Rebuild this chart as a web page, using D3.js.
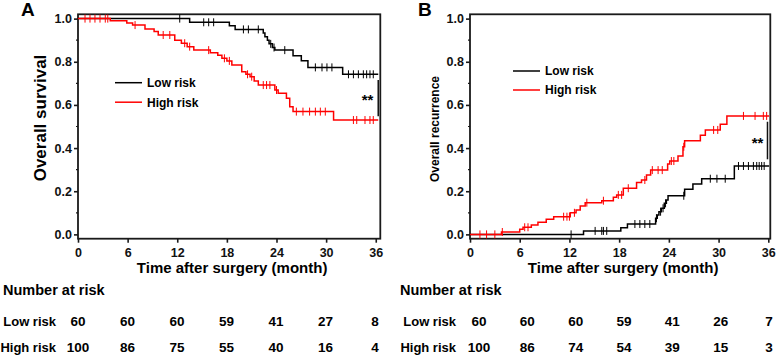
<!DOCTYPE html>
<html>
<head>
<meta charset="utf-8">
<script src="https://cdn.jsdelivr.net/npm/d3@7"></script>
<style>
  body { margin: 0; background: #fff; }
  svg { display: block; font-family: "Liberation Sans", Arial, sans-serif; font-weight: bold; }
</style>
</head>
<body>
<svg id="chart" width="777" height="356"></svg>
<script>
// Tick months shared by both panels and the risk table
const months = [0, 6, 12, 18, 24, 30, 36];

// Panel A: overall survival, [month, survival] after each step
const osLowSteps = [[0, 1], [13.5, 0.983], [18.3, 0.967], [19.0, 0.95], [22.4, 0.933], [22.6, 0.916],
  [22.9, 0.9], [23.1, 0.883], [23.5, 0.866], [23.8, 0.854], [26.0, 0.828], [27.0, 0.805],
  [27.8, 0.774], [32.0, 0.742]];
const osLowCensor = [12.3, 15.2, 15.8, 16.4, 20.0, 20.6, 21.8, 23.3, 23.7, 25.0, 28.7, 29.5, 30.1,
  30.7, 32.7, 33.3, 33.9, 34.5, 34.9, 35.3, 35.7];
const osLowEnd = 36.3;

const osHighSteps = [[0, 1], [3.9, 0.99], [5.9, 0.98], [6.6, 0.97], [8.1, 0.952], [9.2, 0.94],
  [9.7, 0.924], [11.7, 0.9], [12.5, 0.886], [13.2, 0.87], [14.0, 0.854], [16.0, 0.842],
  [16.9, 0.83], [17.4, 0.816], [18.0, 0.804], [18.6, 0.785], [19.8, 0.754], [20.3, 0.742],
  [20.8, 0.731], [21.3, 0.711], [21.8, 0.692], [23.8, 0.669], [24.2, 0.654], [25.2, 0.631],
  [25.6, 0.592], [26.0, 0.569], [30.9, 0.53]];
const osHighCensor = [0.85, 1.45, 2.05, 2.66, 3.3, 3.6, 6.9, 10.3, 11.1, 12.9, 13.5, 15.8, 17.7,
  18.3, 20.5, 21.0, 22.4, 22.8, 23.2, 24.0, 26.4, 27.2, 28.0, 28.7, 29.3, 29.9, 33.3, 33.7,
  34.7, 35.3, 35.7];
const osHighEnd = 36.3;

// Panel B: overall recurrence, [month, cumulative recurrence] after each step
const recLowSteps = [[0, 0], [13.7, 0.016], [18.2, 0.031], [19.0, 0.048], [22.4, 0.075],
  [22.6, 0.09], [22.8, 0.105], [23.1, 0.121], [23.45, 0.144], [23.7, 0.159], [23.9, 0.179],
  [25.9, 0.209], [26.9, 0.233], [27.96, 0.258], [31.9, 0.317]];
const recLowCensor = [12.2, 15.1, 15.9, 16.1, 16.5, 19.9, 20.5, 21.1, 21.7, 22.5, 23.0, 23.3,
  23.6, 25.8, 29.0, 29.8, 30.8, 32.4, 33.0, 33.6, 34.2, 34.6, 34.9, 35.2, 35.5];
const recLowEnd = 36.1;

const recHighSteps = [[0, 0], [3.8, 0.011], [6.0, 0.024], [6.4, 0.033], [7.4, 0.044], [8.2, 0.056],
  [9.2, 0.07], [10.1, 0.082], [12.1, 0.1], [12.8, 0.113], [13.3, 0.131], [13.9, 0.147],
  [15.9, 0.156], [17.3, 0.172], [17.7, 0.183], [18.5, 0.214], [20.1, 0.241], [20.7, 0.252],
  [21.3, 0.275], [21.8, 0.298], [23.85, 0.326], [24.1, 0.34], [25.1, 0.363], [25.7, 0.406],
  [25.9, 0.434], [27.8, 0.46], [28.4, 0.484], [30.2, 0.511], [31.0, 0.549]];
const recHighCensor = [1.2, 2.0, 3.0, 3.9, 6.6, 7.0, 11.3, 11.7, 12.0, 12.6, 14.1, 16.1, 17.9,
  18.3, 19.1, 21.1, 22.0, 22.7, 23.2, 24.3, 24.6, 25.8, 29.4, 29.9, 33.0, 34.4, 35.4, 35.8];
const recHighEnd = 36.1;

// Number at risk
const riskLowOS = [60, 60, 60, 59, 41, 27, 8];
const riskHighOS = [100, 86, 75, 55, 40, 16, 4];
const riskLowRec = [60, 60, 60, 59, 41, 26, 7];
const riskHighRec = [100, 86, 74, 54, 39, 15, 3];

const svg = d3.select('#chart');
const font = '"Liberation Sans", Arial, sans-serif';

// value of a step function at time t
function valueAt(steps, t) {
    let v = steps[0][1];
    for (const s of steps) { if (s[0] <= t) v = s[1]; }
    return v;
}

function drawPanel(p) {
    const x = d3.scaleLinear().domain([0, p.xMax]).range([p.left, p.right]);
    const y = d3.scaleLinear().domain([-0.02, 1.02]).range([p.bottom, p.top]);
    const g = svg.append('g');

    // Axes
    const ya = g.append('g').attr('transform', `translate(${p.left},0)`)
        .call(d3.axisLeft(y).tickValues([0, 0.2, 0.4, 0.6, 0.8, 1]).tickFormat(d3.format('.1f'))
            .tickSize(4).tickPadding(2));
    const xa = g.append('g').attr('transform', `translate(0,${p.bottom})`)
        .call(d3.axisBottom(x).tickValues(months).tickSize(4).tickPadding(5));
    [ya, xa].forEach(a => {
        a.select('.domain').remove();
        a.selectAll('line').attr('stroke', '#1a1a1a').attr('stroke-width', 1.6);
        a.selectAll('text').attr('fill', '#111').style('font-family', font)
            .style('font-size', '12.5px').style('font-weight', 'bold');
    });
    g.selectAll('.ymin').data([0.1, 0.3, 0.5, 0.7, 0.9]).join('line')
        .attr('x1', p.left - 2).attr('x2', p.left).attr('y1', d => y(d)).attr('y2', d => y(d))
        .attr('stroke', '#1a1a1a').attr('stroke-width', 1.2);

    // Frame
    g.append('rect').attr('x', p.left).attr('y', p.top)
        .attr('width', p.right - p.left).attr('height', p.bottom - p.top)
        .attr('fill', 'none').attr('stroke', '#1a1a1a').attr('stroke-width', 1.8);

    // Step curves with censor marks
    const line = d3.line().x(d => x(d[0])).y(d => y(d[1])).curve(d3.curveStepAfter);
    p.series.forEach(s => {
        const pts = s.steps.concat([[s.end, s.steps[s.steps.length - 1][1]]]);
        g.append('path').datum(pts).attr('d', line)
            .attr('fill', 'none').attr('stroke', s.color).attr('stroke-width', 1.5);
        g.selectAll(null).data(s.censor).join('line')
            .attr('x1', d => x(d)).attr('x2', d => x(d))
            .attr('y1', d => y(valueAt(s.steps, d)) - 4).attr('y2', d => y(valueAt(s.steps, d)) + 4)
            .attr('stroke', s.color).attr('stroke-width', 1);
    });

    // Significance bracket
    g.append('line').attr('x1', x(p.sig.x)).attr('x2', x(p.sig.x))
        .attr('y1', y(p.sig.y1)).attr('y2', y(p.sig.y2)).attr('stroke', '#111').attr('stroke-width', 1.5);
    g.append('text').attr('x', x(p.sig.tx)).attr('y', y(p.sig.ty) + 8)
        .attr('text-anchor', 'middle').style('font-size', '15px').text('**');

    // Legend
    p.series.forEach((s, i) => {
        const ly = p.legend.y + i * p.legend.dy;
        g.append('line').attr('x1', p.legend.x).attr('x2', p.legend.x + 27)
            .attr('y1', ly).attr('y2', ly).attr('stroke', s.color).attr('stroke-width', 1.5);
        g.append('text').attr('x', p.legend.x + 32).attr('y', ly + 4.3)
            .style('font-size', '12px').text(s.name);
    });

    // Titles
    g.append('text').attr('x', p.letterX).attr('y', 16).style('font-size', '19px').text(p.letter);
    g.append('text').attr('transform', `translate(${p.ytitleX},${p.ytitleY}) rotate(-90)`)
        .attr('text-anchor', 'middle').style('font-size', p.ytitleSize + 'px').text(p.ytitle);
    g.append('text').attr('x', (p.left + p.right) / 2 + 3).attr('y', 273)
        .attr('text-anchor', 'middle').style('font-size', '15px').text('Time after surgery (month)');

    // Number at risk table
    const col = d3.scaleLinear().domain([0, 36]).range(p.tableRange);
    g.append('text').attr('x', p.tableX).attr('y', 295).style('font-size', '14.5px').text('Number at risk');
    [['Low risk', p.riskLow, 326], ['High risk', p.riskHigh, 352]].forEach(([name, vals, by]) => {
        g.append('text').attr('x', p.tableLabelEnd).attr('y', by).attr('text-anchor', 'end')
            .style('font-size', '13px').text(name);
        g.selectAll(null).data(vals).join('text')
            .attr('x', (d, i) => col(months[i])).attr('y', by).attr('text-anchor', 'middle')
            .style('font-size', '13.5px').text(d => d);
    });
}

drawPanel({
    left: 78, right: 380.3, top: 14.3, bottom: 238.7, xMax: 36.55,
    letter: 'A', letterX: 21,
    ytitle: 'Overall survival', ytitleX: 46, ytitleY: 118, ytitleSize: 17,
    series: [
        { name: 'Low risk', color: '#000', steps: osLowSteps, censor: osLowCensor, end: osLowEnd },
        { name: 'High risk', color: '#ff0000', steps: osHighSteps, censor: osHighCensor, end: osHighEnd }
    ],
    sig: { x: 36.3, y1: 0.715, y2: 0.548, tx: 35.0, ty: 0.635 },
    legend: { x: 115, y: 82.7, dy: 19.5 },
    tableX: 3, tableLabelEnd: 56, tableRange: [78, 375], riskLow: riskLowOS, riskHigh: riskHighOS
});

drawPanel({
    left: 470, right: 770.3, top: 14.3, bottom: 238.7, xMax: 36.24,
    letter: 'B', letterX: 418,
    ytitle: 'Overall recurrence', ytitleX: 439, ytitleY: 129, ytitleSize: 12,
    series: [
        { name: 'Low risk', color: '#000', steps: recLowSteps, censor: recLowCensor, end: recLowEnd },
        { name: 'High risk', color: '#ff0000', steps: recHighSteps, censor: recHighCensor, end: recHighEnd }
    ],
    sig: { x: 35.9, y1: 0.522, y2: 0.348, tx: 34.7, ty: 0.437 },
    legend: { x: 513, y: 71, dy: 19 },
    tableX: 400, tableLabelEnd: 456, tableRange: [479, 769], riskLow: riskLowRec, riskHigh: riskHighRec
});
</script>
</body>
</html>
